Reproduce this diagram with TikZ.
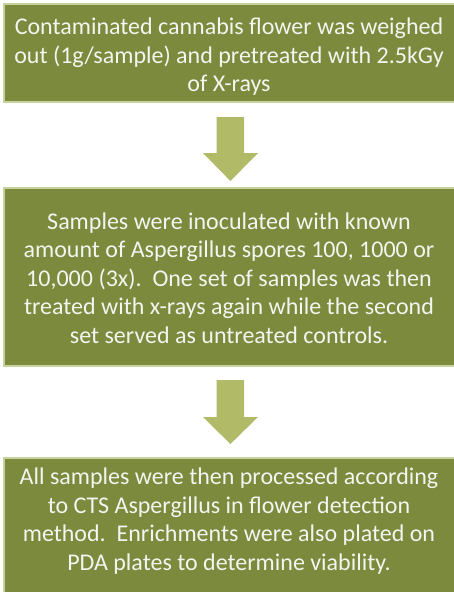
\documentclass[tikz,border=0pt]{standalone}
\usepackage{fontspec}
\setmainfont{Carlito}
\definecolor{boxfill}{HTML}{7B8A3C}
\definecolor{boxline}{HTML}{C5D29A}
\definecolor{arrowfill}{HTML}{B1BA67}
\definecolor{txt}{HTML}{F4F4F0}
\begin{document}
\begin{tikzpicture}[x=1pt,y=-1pt,
  stage/.style={fill=boxfill,draw=boxline,line width=1.5pt,text=txt,align=center,
    font=\fontsize{24}{28.5}\selectfont,inner sep=0pt},
  downarrow/.style={fill=arrowfill,draw=none}]
\useasboundingbox (0,0) rectangle (454,592);
\fill[white] (0,0) rectangle (454,592);
% boxes
\draw[stage] (4,4) rectangle (458,102);
\draw[stage] (4,188) rectangle (458,366);
\draw[stage] (4,458) rectangle (458,600);
\node[stage,draw=none,fill=none] (b1) at (229,57) {Contaminated cannabis flower was weighed\\out (1g/sample) and pretreated with 2.5kGy\\of X-rays};
\node[stage,draw=none,fill=none] (b2) at (229,278) {Samples were inoculated with known\\amount of Aspergillus spores 100, 1000 or\\10,000 (3x).\ \ One set of samples was then\\treated with x-rays again while the second\\set served as untreated controls.};
\node[stage,draw=none,fill=none] (b3) at (229,521) {All samples were then processed according\\to CTS Aspergillus in flower detection\\method.\ \ Enrichments were also plated on\\PDA plates to determine viability.};
% arrows
\fill[downarrow] (216.7,117) -- (244,117) -- (244,153) -- (258,153) -- (230.4,181) -- (203,153) -- (216.7,153) -- cycle;
\fill[downarrow] (216.7,380) -- (244,380) -- (244,417) -- (258,417) -- (230.4,444) -- (203,417) -- (216.7,417) -- cycle;
\end{tikzpicture}
\end{document}
